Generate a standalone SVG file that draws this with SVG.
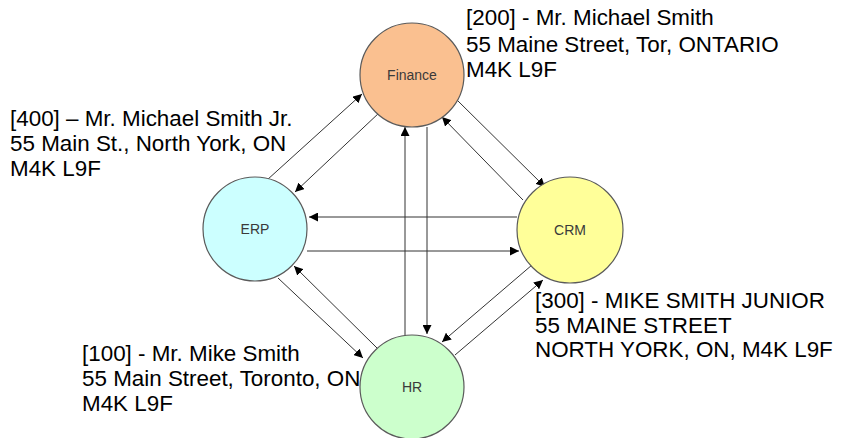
<svg xmlns="http://www.w3.org/2000/svg" width="850" height="438" viewBox="0 0 850 438">
<style>
.node{stroke:#5a5a5a;stroke-width:1.2}
.lbl{font-family:"Liberation Sans",Arial,sans-serif;font-size:14px;fill:#3a3a3a;text-anchor:middle}
.note{font-family:"Liberation Sans",Arial,sans-serif;font-size:22.4px;fill:#000}
.c{stroke:#333;stroke-width:1;fill:none;marker-end:url(#ah)}
</style>
<defs>
<marker id="ah" viewBox="0 0 10 10" refX="10" refY="5" markerWidth="9" markerHeight="9" markerUnits="userSpaceOnUse" orient="auto">
<path d="M0,0 L10,5 L0,10 z" fill="#000"/>
</marker>
</defs>
<rect width="850" height="438" fill="#fff"/>
<g id="connectors">
<line class="c" x1="405" y1="336" x2="405" y2="127"/>
<line class="c" x1="427" y1="127" x2="427" y2="334"/>
<line class="c" x1="517" y1="217" x2="309" y2="217"/>
<line class="c" x1="307" y1="251" x2="519" y2="251"/>
<line class="c" x1="267" y1="180" x2="362" y2="94"/>
<line class="c" x1="380" y1="112" x2="295" y2="192"/>
<line class="c" x1="457" y1="100" x2="545" y2="187"/>
<line class="c" x1="523" y1="200" x2="442" y2="117"/>
<line class="c" x1="278" y1="278" x2="363" y2="358"/>
<line class="c" x1="377" y1="348" x2="294" y2="266"/>
<line class="c" x1="532" y1="265" x2="442" y2="342"/>
<line class="c" x1="455" y1="355" x2="543" y2="280"/>
</g>
<g id="finance">
<circle class="node" cx="412" cy="75" r="52" fill="#FAC090"/>
<text class="lbl" x="412" y="80">Finance</text>
</g>
<g id="erp">
<circle class="node" cx="255" cy="229" r="52" fill="#CCFFFF"/>
<text class="lbl" x="255" y="234">ERP</text>
</g>
<g id="crm">
<circle class="node" cx="570" cy="230" r="53" fill="#FFFF99"/>
<text class="lbl" x="570" y="235">CRM</text>
</g>
<g id="hr">
<circle class="node" cx="412" cy="387" r="52" fill="#CCFFCC"/>
<text class="lbl" x="412" y="392">HR</text>
</g>
<g id="note200">
<text class="note" x="466" y="25">[200] - Mr. Michael Smith</text>
<text class="note" x="466" y="52">55 Maine Street, Tor, ONTARIO</text>
<text class="note" x="466" y="77">M4K L9F</text>
</g>
<g id="note400">
<text class="note" x="10" y="126">[400] – Mr. Michael Smith Jr.</text>
<text class="note" x="10" y="151">55 Main St., North York, ON</text>
<text class="note" x="10" y="176">M4K L9F</text>
</g>
<g id="note300">
<text class="note" x="535" y="308">[300] - MIKE SMITH JUNIOR</text>
<text class="note" x="535" y="333">55 MAINE STREET</text>
<text class="note" x="535" y="357">NORTH YORK, ON, M4K L9F</text>
</g>
<g id="note100">
<text class="note" x="82" y="361">[100] - Mr. Mike Smith</text>
<text class="note" x="82" y="386">55 Main Street, Toronto, ON</text>
<text class="note" x="82" y="411">M4K L9F</text>
</g>
</svg>
